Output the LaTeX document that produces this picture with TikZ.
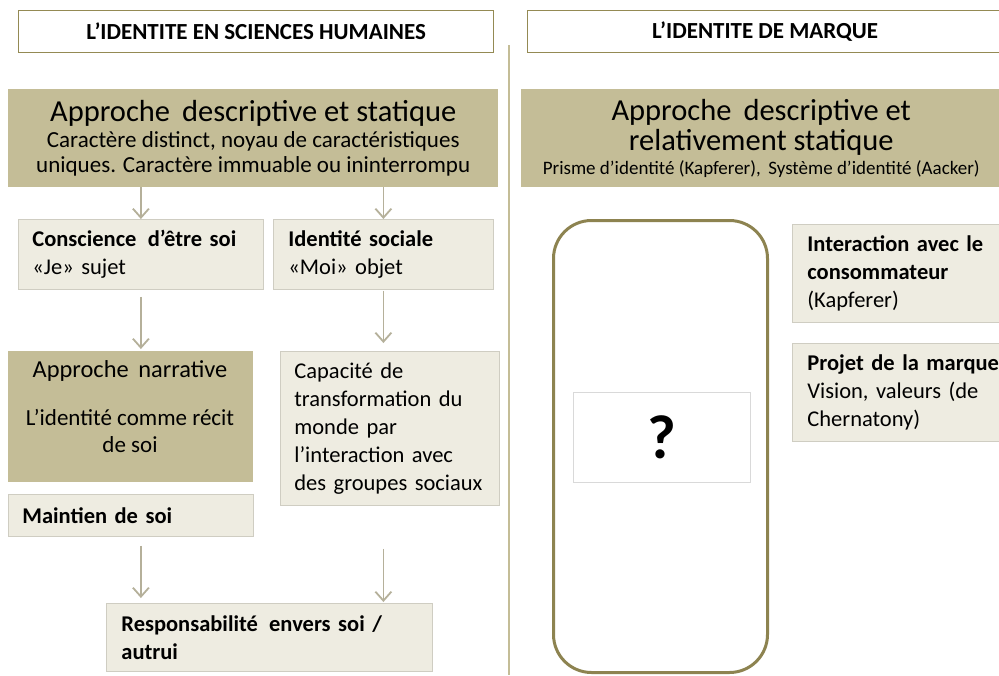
\documentclass[tikz,border=0pt]{standalone}
\usepackage{fontspec}
\setmainfont{Carlito}
\usetikzlibrary{arrows.meta,calc}
\definecolor{tan}{HTML}{C4BD97}
\definecolor{light}{HTML}{EEECE1}
\definecolor{lightb}{HTML}{CFCDC2}
\definecolor{olive}{HTML}{948A54}
\definecolor{arrc}{HTML}{B5B09A}
\definecolor{qb}{HTML}{D9D9D9}
\tikzset{
  header/.style={draw=olive, line width=1.3pt, fill=white, inner sep=0pt, anchor=north west, font=\fontsize{23}{26}\selectfont\bfseries},
  tanbox/.style={fill=tan, inner sep=0pt, anchor=north west, align=center},
  lightbox/.style={fill=light, draw=lightb, line width=0.8pt, inner sep=0pt, anchor=north west},
  arr/.style={draw=arrc, line width=1.8pt, -{Straight Barb[length=9pt,width=16pt,line width=1.8pt]}},
  bodytxt/.style={font=\fontsize{22.5}{28}\selectfont, align=left},
}
\begin{document}
\begin{tikzpicture}[x=1pt,y=-1pt]
\useasboundingbox (0,0) rectangle (999,675);
\fill[white] (0,0) rectangle (999,675);
% divider
\coordinate (divtop) at (509,45);
\coordinate (divbot) at (509,675);
\draw[tan, line width=1.8pt] (divtop) -- (divbot);
% headers
\node[header, minimum width=475, minimum height=42] (hL) at (18,10) {L’IDENTITE EN SCIENCES HUMAINES};
\node[header, minimum width=485, minimum height=42, anchor=north west] (hR) at (527,10) {\hspace*{-10pt}L’IDENTITE DE MARQUE};
% big tan boxes
\node[tanbox, minimum width=490, minimum height=98, font=\fontsize{23}{25}\selectfont] (bigL) at (8,89)
  {{\fontsize{30.5}{30}\selectfont Approche\, descriptive et statique}\\[1pt]
   Caractère distinct, noyau de caractéristiques\\
   uniques. Caractère immuable ou ininterrompu};
\node[tanbox, minimum width=480, minimum height=98, font=\fontsize{30.5}{30}\selectfont] (bigR) at (521,89)
  {Approche\, descriptive et\\
   relativement statique\\[-6pt]
   {\fontsize{19}{22}\selectfont Prisme d’identité (Kapferer),\, Système d’identité (Aacker)}};
% row 2
\node[lightbox, minimum width=245, minimum height=70, text width=217, bodytxt, inner xsep=14pt] (consc) at (18,219)
  {\textbf{Conscience\, d’être soi}\\ «Je» sujet};
\node[lightbox, minimum width=220, minimum height=70, text width=190, bodytxt, inner xsep=15pt] (soc) at (273,219)
  {\textbf{Identité sociale}\\ «Moi» objet};
% row 3
\node[tanbox, minimum width=245, minimum height=131] (narr) at (8,351) {};
\node[font=\fontsize{24.4}{28}\selectfont, anchor=base, inner sep=0pt] (narrT) at (130,377) {Approche\, narrative};
\node[font=\fontsize{23}{27}\selectfont, align=center, anchor=north, inner sep=0pt] (narrB) at (130,409) {L’identité comme récit\\ de soi};
\node[lightbox, minimum width=219, minimum height=154, text width=191, bodytxt, inner xsep=14pt] (cap) at (280,351)
  {Capacité de\\ transformation du\\ monde par\\ l’interaction avec\\ des groupes sociaux};
\node[lightbox, minimum width=245, minimum height=42, text width=217, bodytxt, inner xsep=14pt] (maint) at (8,494)
  {\textbf{Maintien de soi}};
\node[lightbox, minimum width=326, minimum height=68, text width=296, bodytxt, inner xsep=15pt] (resp) at (106,603)
  {\textbf{Responsabilité\, envers soi /}\\ \textbf{autrui}};
% arrows
\draw[arr] (bigL.south -| consc.north) -- (consc.north);
\draw[arr] (bigL.south -| soc.north) -- (soc.north);
\draw[arr] ([yshift=-7pt]consc.south) -- ([yshift=2pt]consc.south |- narr.north);
\draw[arr] ([yshift=-1pt]soc.south) -- ([yshift=8pt]soc.south |- cap.north);
\draw[arr] ([yshift=-9pt]maint.south -| consc.south) -- ([yshift=5pt]consc.south |- resp.north);
\draw[arr] ([yshift=-43pt]cap.south -| soc.south) -- ([yshift=1pt]soc.south |- resp.north);
% right side
\node[draw=olive!95!black, line width=3pt, rounded corners=38pt, minimum width=214, minimum height=452, anchor=north west, inner sep=0pt] (round) at (552,219) {};
\node[draw=qb, line width=0.8pt, fill=white, minimum width=177, minimum height=90, anchor=north west, inner sep=0pt, font=\fontsize{62}{64}\selectfont\bfseries] (q) at (573,392) {?};
\node[lightbox, minimum width=215, minimum height=98, text width=190, bodytxt, inner xsep=15pt] (inter) at (792,224)
  {\textbf{Interaction avec le}\\ \textbf{consommateur}\\ (Kapferer)};
\node[lightbox, minimum width=215, minimum height=98, text width=195, bodytxt, inner xsep=15pt] (proj) at (792,343)
  {\textbf{Projet de la marque}\\ Vision, valeurs (de\\ Chernatony)};
\end{tikzpicture}
\end{document}
